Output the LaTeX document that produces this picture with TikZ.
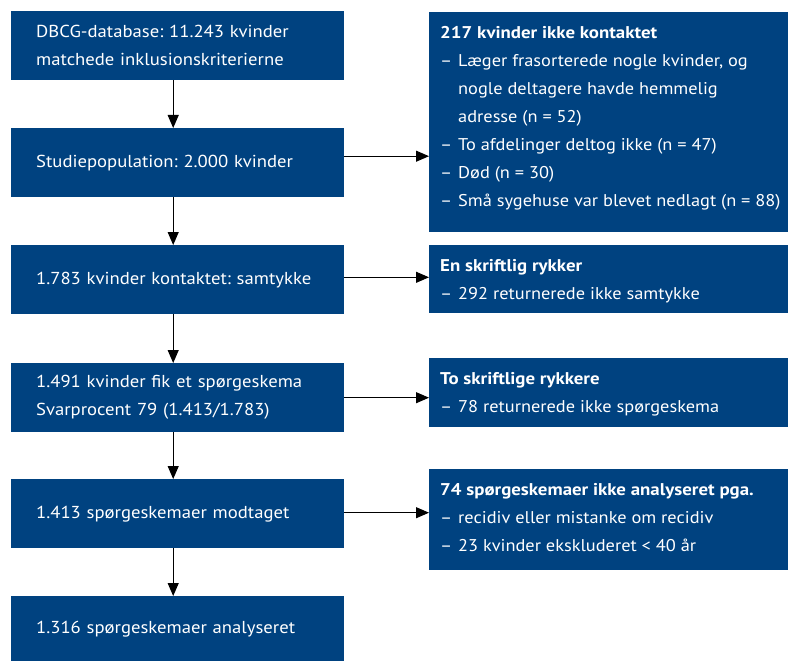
\documentclass[tikz,border=0pt]{standalone}
\usepackage{fontspec}
\setmainfont[FakeStretch=1.08,BoldFeatures={FakeStretch=1.11}]{PT Sans}
\frenchspacing
\usetikzlibrary{arrows.meta,calc}
\definecolor{dblue}{RGB}{0,66,128}
\newcommand\rdash{\makebox[18pt][l]{–}}
\newcommand\rindent{\hspace*{18pt}}
\begin{document}
\begin{tikzpicture}[x=1pt,y=-1pt,
  lbox/.style={fill=dblue, text=white, anchor=north west, minimum width=333pt,
    minimum height=69pt, inner xsep=25pt, inner ysep=0pt, text width=283pt,
    align=left, font=\fontsize{17.3}{28}\selectfont},
  rbox/.style={fill=dblue, anchor=north west, minimum width=359pt, inner sep=0pt},
  rtext/.style={text=white, anchor=north west, inner sep=0pt, align=left,
    font=\fontsize{17}{28}\selectfont},
  arr/.style={-{Triangle[length=13pt,width=11pt]}, line width=1pt, black}]
\useasboundingbox (0,0) rectangle (788,661);

% left column
\node[lbox] (l1) at (11,11) {DBCG-database: 11.243 kvinder\\matchede inklusionskriterierne};
\node[lbox] (l2) at (11,128) {Studiepopulation: 2.000 kvinder};
\node[lbox] (l3) at (11,245) {1.783 kvinder kontaktet: samtykke};
\node[lbox] (l4) at (11,363) {1.491 kvinder fik et spørgeskema\\Svarprocent 79 (1.413/1.783)};
\node[lbox] (l5) at (11,479) {1.413 spørgeskemaer modtaget};
\node[lbox, minimum height=65pt] (l6) at (11,596) {1.316 spørgeskemaer analyseret};

% right column boxes
\node[rbox, minimum height=220pt] (r1) at (429,12) {};
\node[rbox, minimum height=68pt] (r2) at (429,245) {};
\node[rbox, minimum height=69pt] (r3) at (429,358) {};
\node[rbox, minimum height=101pt] (r4) at (429,469) {};

% right column texts
\node[rtext] (r1t) at ($(r1.north west)+(11,14)$) {\textbf{217 kvinder ikke kontaktet}\\
  \rdash Læger frasorterede nogle kvinder, og\\
  \rindent nogle deltagere havde hemmelig\\
  \rindent adresse (n = 52)\\
  \rdash To afdelinger deltog ikke (n = 47)\\
  \rdash Død (n = 30)\\
  \rdash Små sygehuse var blevet nedlagt (n = 88)};
\node[rtext] (r2t) at ($(r2.north west)+(11,14)$) {\textbf{En skriftlig rykker}\\
  \rdash 292 returnerede ikke samtykke};
\node[rtext] (r3t) at ($(r3.north west)+(11,14)$) {\textbf{To skriftlige rykkere}\\
  \rdash 78 returnerede ikke spørgeskema};
\node[rtext] (r4t) at ($(r4.north west)+(11,14)$) {\textbf{74 spørgeskemaer ikke analyseret pga.}\\
  \rdash recidiv eller mistanke om recidiv\\
  \rdash 23 kvinder ekskluderet < 40 år};

% vertical arrows
\foreach \a/\b in {l1/l2,l2/l3,l3/l4,l4/l5,l5/l6}
  \draw[arr] ([xshift=-4.5pt]\a.south) -- ([xshift=-4.5pt]\b.north);

% horizontal arrows
\draw[arr] ([yshift=6.5pt]l2.east) -- ([yshift=6.5pt]l2.east -| r1.west);
\draw[arr] ([yshift=2.4pt]l3.east) -- ([yshift=2.4pt]l3.east -| r2.west);
\draw[arr] (l4.east) -- (l4.east -| r3.west);
\draw[arr] ([yshift=1pt]l5.east) -- ([yshift=1pt]l5.east -| r4.west);
\end{tikzpicture}
\end{document}
